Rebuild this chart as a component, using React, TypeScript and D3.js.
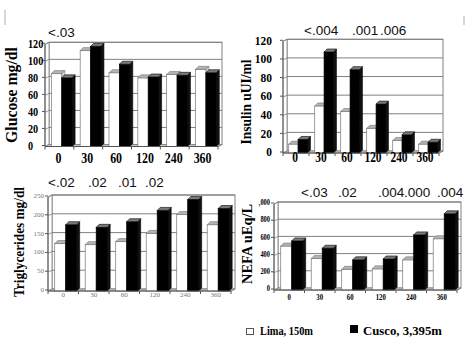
import React from 'react';
import * as d3 from 'd3';

const categories = ['0', '30', '60', '120', '240', '360'];

const glucoseLima = [85, 112, 86, 80, 84, 90];
const glucoseCusco = [80, 117, 96, 81, 83, 86];
const glucoseTicks = [0, 20, 40, 60, 80, 100, 120];
const glucoseTickLabels = ['0', '20', '40', '60', '80', '100', '120'];
const glucoseP = ['<.03'];

const insulinLima = [9, 50, 44, 26, 13, 9];
const insulinCusco = [14, 108, 89, 52, 19, 11];
const insulinTicks = [0, 20, 40, 60, 80, 100, 120];
const insulinTickLabels = ['0', '20', '40', '60', '80', '100', '120'];
const insulinP = ['<.004', '.001', '.006'];

const tgLima = [125, 122, 130, 152, 202, 175];
const tgCusco = [175, 168, 183, 213, 242, 218];
const tgTicks = [0, 50, 100, 150, 200, 250];
const tgTickLabels = ['0', '50', '100', '150', '200', '250'];
const tgP = ['<.02', '.02', '.01', '.02'];

const nefaLima = [505, 360, 235, 240, 345, 590];
const nefaCusco = [565, 480, 345, 355, 635, 880];
const nefaTicks = [0, 200, 400, 600, 800, 1000];
const nefaTickLabels = ['0', '200', '400', '600', '800', '1,000'];
const nefaP = ['<.03', '.02', '.004', '.000', '.004'];

const legendLabels = ['Lima, 150m', 'Cusco, 3,395m'];

type Panel = {
  id: string;
  lima: number[];
  cusco: number[];
  ticks: number[];
  tickLabels: string[];
  x0: number; x1: number; y0: number; yTop: number;
  yTickX: number; yTickAnchor: string; yTickSize: number; yTickSx: number; yTickWeight: string; yTickColor: string;
  xLabY: number; xLabSize: number; xLabSx: number; xLabWeight: string; xLabColor: string; xLabShift: number;
  title: string; titleX: number; titleY: number; titleSize: number; titleLen: number;
  pvals: string[]; pX: number[]; pY: number;
  clipFirstX?: number;
};

const SERIF = '"Liberation Serif", "DejaVu Serif", serif';
const SANS = '"Liberation Sans", Arial, sans-serif';

const panels: Panel[] = [
  {
    id: 'glu', lima: glucoseLima, cusco: glucoseCusco, ticks: glucoseTicks, tickLabels: glucoseTickLabels,
    x0: 45, x1: 218, y0: 144.5, yTop: 42.3,
    yTickX: 28, yTickAnchor: 'start', yTickSize: 12, yTickSx: 0.85, yTickWeight: 'bold', yTickColor: '#000',
    xLabY: 163, xLabSize: 14, xLabSx: 0.85, xLabWeight: 'bold', xLabColor: '#000', xLabShift: -1,
    title: 'Glucose mg/dl', titleX: 17, titleY: 95, titleSize: 16, titleLen: 96,
    pvals: glucoseP, pX: [48], pY: 37,
  },
  {
    id: 'ins', lima: insulinLima, cusco: insulinCusco, ticks: insulinTicks, tickLabels: insulinTickLabels,
    x0: 283, x1: 439, y0: 151, yTop: 39.3,
    yTickX: 272, yTickAnchor: 'end', yTickSize: 13, yTickSx: 0.88, yTickWeight: 'bold', yTickColor: '#000',
    xLabY: 162, xLabSize: 14, xLabSx: 0.82, xLabWeight: 'bold', xLabColor: '#000', xLabShift: -1,
    title: 'Insulin uUI/ml', titleX: 251, titleY: 102, titleSize: 15, titleLen: 85,
    pvals: insulinP, pX: [304, 352, 380], pY: 35,
  },
  {
    id: 'tg', lima: tgLima, cusco: tgCusco, ticks: tgTicks, tickLabels: tgTickLabels,
    x0: 48, x1: 231, y0: 289, yTop: 195,
    yTickX: 44, yTickAnchor: 'end', yTickSize: 7, yTickSx: 1, yTickWeight: 'normal', yTickColor: '#777',
    xLabY: 297, xLabSize: 7, xLabSx: 1, xLabWeight: 'normal', xLabColor: '#777', xLabShift: 0,
    title: 'Triglycerides mg/dl', titleX: 24, titleY: 242, titleSize: 15, titleLen: 110,
    pvals: tgP, pX: [48, 88, 118, 145], pY: 187,
  },
  {
    id: 'nefa', lima: nefaLima, cusco: nefaCusco, ticks: nefaTicks, tickLabels: nefaTickLabels,
    x0: 274, x1: 457, y0: 288, yTop: 202,
    yTickX: 270, yTickAnchor: 'end', yTickSize: 8, yTickSx: 0.8, yTickWeight: 'bold', yTickColor: '#000',
    xLabY: 300, xLabSize: 8, xLabSx: 0.85, xLabWeight: 'bold', xLabColor: '#000', xLabShift: 0,
    title: 'NEFA uEq/L', titleX: 252, titleY: 244, titleSize: 14, titleLen: 80,
    pvals: nefaP, pX: [301, 338, 378, 404, 437], pY: 197,
    clipFirstX: 258,
  },
];

const DX = 4;
const DY = 2;
const DD = 3;

function Bar({ x, w, top, bottom, dark }: { x: number; w: number; top: number; bottom: number; dark: boolean }) {
  const front = dark ? '#000' : '#fff';
  const topFill = dark ? '#7a7a7a' : '#b4b4b4';
  const sideFill = dark ? '#111' : '#d4d4d4';
  const stroke = dark ? '#000' : '#777';
  const topPts = [[x, top], [x + DD, top - DD], [x + w + DD, top - DD], [x + w, top]];
  const sidePts = [[x + w, top], [x + w + DD, top - DD], [x + w + DD, bottom - DD], [x + w, bottom]];
  const p = (pts: number[][]) => pts.map((q) => q.join(',')).join(' ');
  return (
    <g>
      <polygon points={p(sidePts)} fill={sideFill} stroke={stroke} strokeWidth={0.6} />
      <rect x={x} y={top} width={w} height={bottom - top} fill={front} stroke={stroke} strokeWidth={0.7} />
      <polygon points={p(topPts)} fill={topFill} stroke={stroke} strokeWidth={0.6} />
    </g>
  );
}

function PanelView({ cfg }: { cfg: Panel }) {
  const max = cfg.ticks[cfg.ticks.length - 1];
  const ys = d3.scaleLinear().domain([0, max]).range([cfg.y0, cfg.yTop]);
  const xb = d3.scaleBand<string>().domain(categories).range([cfg.x0, cfg.x1]).padding(0);
  const bw = xb.bandwidth();
  const barW = bw * 0.36;
  const off = bw * 0.22;
  const { x0, x1, y0, yTop } = cfg;
  const p = (pts: number[][]) => pts.map((q) => q.join(',')).join(' ');
  const grid = '#808080';
  const bottom = y0 + DY;
  return (
    <g>
      <rect x={x0 + DX} y={yTop} width={x1 - x0} height={y0 - yTop} fill="#fff" stroke={grid} strokeWidth={1} />
      <polygon points={p([[x0, yTop + DY], [x0 + DX, yTop], [x0 + DX, y0], [x0, y0 + DY]])} fill="#fff" stroke={grid} strokeWidth={0.8} />
      <polygon points={p([[x0, y0 + DY], [x0 + DX, y0], [x1 + DX, y0], [x1, y0 + DY]])} fill="#c8c8c8" stroke={grid} strokeWidth={0.8} />
      {cfg.ticks.filter((t) => t > 0).map((t) => (
        <g key={'g' + t}>
          <line x1={x0 + DX} x2={x1 + DX} y1={ys(t)} y2={ys(t)} stroke={grid} strokeWidth={1} />
          <line x1={x0} x2={x0 + DX} y1={ys(t) + DY} y2={ys(t)} stroke={grid} strokeWidth={0.8} />
        </g>
      ))}
      <line x1={x1 + DX} x2={x1} y1={y0} y2={y0 + DY} stroke={grid} strokeWidth={0.8} />
      {categories.map((c, i) => {
        const bx = (xb(c) as number) + off;
        return (
          <g key={'b' + c}>
            <Bar x={bx} w={barW} top={ys(cfg.lima[i]) + DD * 0.5} bottom={bottom} dark={false} />
            <Bar x={bx + barW} w={barW} top={ys(cfg.cusco[i]) + DD * 0.5} bottom={bottom} dark={true} />
          </g>
        );
      })}
      <line x1={x0} x2={x0} y1={yTop + DY} y2={y0 + DY} stroke="#555" strokeWidth={1} />
      <line x1={x0} x2={x1} y1={y0 + DY} y2={y0 + DY} stroke="#555" strokeWidth={1} />
      {cfg.ticks.map((t) => (
        <line key={'yt' + t} x1={x0 - 3} x2={x0} y1={ys(t) + DY * 0.5} y2={ys(t) + DY * 0.5} stroke="#555" strokeWidth={1} />
      ))}
      {[...categories.map((c) => xb(c) as number), x1].map((xv, i) => (
        <line key={'xt' + i} x1={xv} x2={xv} y1={y0 + DY} y2={y0 + DY + 3} stroke="#555" strokeWidth={1} />
      ))}
      {cfg.ticks.map((t, i) => {
        const isClip = cfg.clipFirstX !== undefined && i === cfg.ticks.length - 1;
        return (
          <text
            key={'yl' + t}
            transform={`translate(${cfg.yTickX},${ys(t) + DY * 0.5}) scale(${cfg.yTickSx},1)`}
            textAnchor={cfg.yTickAnchor as any}
            dominantBaseline="central"
            fontFamily={SERIF}
            fontSize={cfg.yTickSize}
            fontWeight={cfg.yTickWeight}
            fill={cfg.yTickColor}
            clipPath={isClip ? `url(#clip-${cfg.id})` : undefined}
          >
            {cfg.tickLabels[i]}
          </text>
        );
      })}
      {cfg.clipFirstX !== undefined && (
        <clipPath id={`clip-${cfg.id}`} clipPathUnits="userSpaceOnUse">
          <rect x={(cfg.clipFirstX - cfg.yTickX) / cfg.yTickSx} y={-20} width={100} height={40} />
        </clipPath>
      )}
      {categories.map((c) => (
        <text
          key={'xl' + c}
          transform={`translate(${(xb(c) as number) + bw / 2 + cfg.xLabShift},${cfg.xLabY}) scale(${cfg.xLabSx},1)`}
          textAnchor="middle"
          fontFamily={SERIF}
          fontSize={cfg.xLabSize}
          fontWeight={cfg.xLabWeight}
          fill={cfg.xLabColor}
        >
          {c}
        </text>
      ))}
      <text
        transform={`translate(${cfg.titleX},${cfg.titleY}) rotate(-90)`}
        textAnchor="middle"
        fontFamily={SERIF}
        fontSize={cfg.titleSize}
        fontWeight="bold"
        textLength={cfg.titleLen}
        lengthAdjust="spacingAndGlyphs"
        fill="#000"
      >
        {cfg.title}
      </text>
      {cfg.pvals.map((s, i) => (
        <text key={'p' + i} x={cfg.pX[i]} y={cfg.pY} fontFamily={SANS} fontSize={13.5} fill="#111">
          {s}
        </text>
      ))}
    </g>
  );
}

export default function App() {
  return (
    <svg
      width={468}
      height={352}
      viewBox="0 0 468 352"
      style={{ position: 'absolute', left: 0, top: 0, background: '#fff' }}
    >
      <rect x={0} y={0} width={468} height={352} fill="#fff" />
      <line x1={5} x2={5} y1={10} y2={25} stroke="#c8c8c8" strokeWidth={1.5} />
      <line x1={464} x2={464} y1={16} y2={25} stroke="#c8c8c8" strokeWidth={1.5} />
      {panels.map((cfg) => (
        <PanelView key={cfg.id} cfg={cfg} />
      ))}
      <rect x={246.5} y={328.5} width={7} height={6} fill="#fff" stroke="#555" strokeWidth={1} />
      <text x={260} y={334.5} fontFamily={SERIF} fontSize={12} fontWeight="bold" textLength={53} lengthAdjust="spacingAndGlyphs">
        {legendLabels[0]}
      </text>
      <rect x={350} y={325} width={8} height={8} fill="#000" />
      <text x={363} y={334.5} fontFamily={SERIF} fontSize={12} fontWeight="bold" textLength={79} lengthAdjust="spacingAndGlyphs">
        {legendLabels[1]}
      </text>
    </svg>
  );
}
